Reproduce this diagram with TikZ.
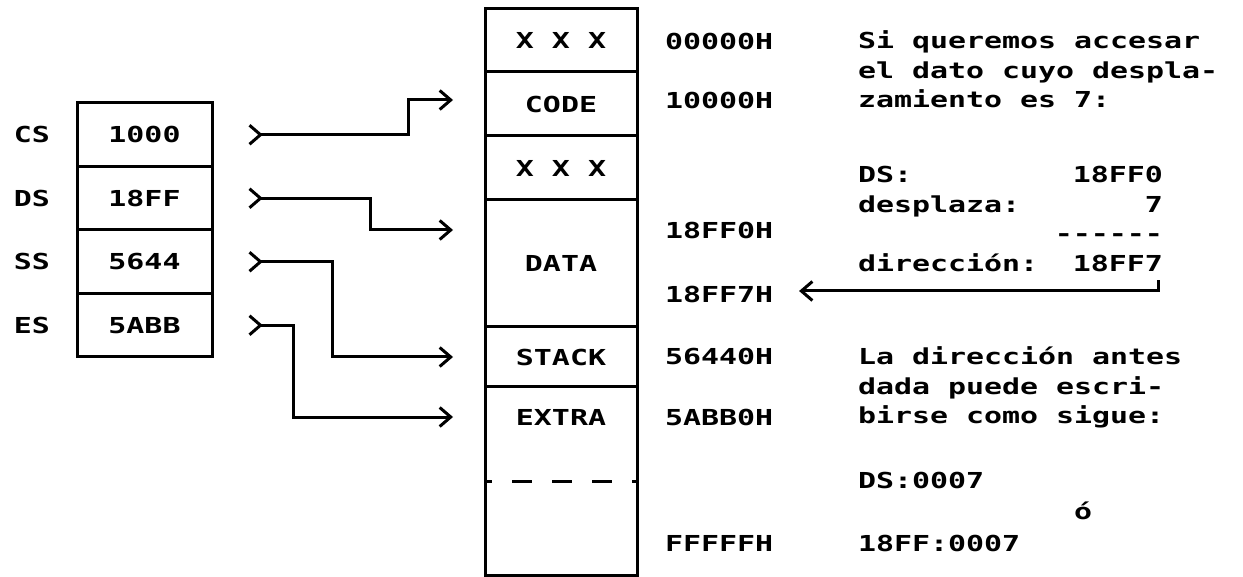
\documentclass[tikz,border=0pt]{standalone}
\usepackage{fontspec}
\setmonofont{DejaVu Sans Mono}[FakeStretch=1.36]
\usetikzlibrary{arrows.meta,positioning,calc}
\newcommand{\prnfont}{\fontsize{22}{29.5}\selectfont\ttfamily\bfseries}

\begin{document}
\begin{tikzpicture}[x=1pt, y=-1pt,
  every node/.style={font=\prnfont, inner sep=0pt, outer sep=0pt},
  reg/.style={draw, line width=3pt, minimum width=135pt, minimum height=63.5pt},
  seg/.style={minimum width=152pt},
  frame/.style={line width=3pt},
  ptr/.style={line width=3pt,
    {Straight Barb[reversed, length=11pt, width=19pt]}-{Straight Barb[length=11pt, width=19pt]}},
  ret/.style={line width=3pt, -{Straight Barb[length=11pt, width=19pt]}}
]
  \useasboundingbox (0,0) rectangle (1243,577);

  % segment registers
  \node[reg] (cs) at (144.5,134.75) {1000};
  \node[reg, below=0pt of cs] (ds) {18FF};
  \node[reg, below=0pt of ds] (ss) {5644};
  \node[reg, below=0pt of ss] (es) {5ABB};
  \foreach \r/\t in {cs/CS, ds/DS, ss/SS, es/ES}
    \node[left=27pt of \r] (l\r) {\t};

  % memory map
  \node[seg, minimum height=63pt, anchor=north] (xa) at (561,9) {X X X};
  \node[seg, minimum height=64pt, below=0pt of xa] (code) {CODE};
  \node[seg, minimum height=64pt, below=0pt of code] (xb) {X X X};
  \node[seg, minimum height=127pt, below=0pt of xb] (data) {DATA};
  \node[seg, minimum height=60pt, below=0pt of data] (stack) {STACK};
  \node[seg, minimum height=94pt, text height=16pt, text depth=33pt,
    below=0pt of stack] (extra) {EXTRA};
  \node[seg, minimum height=94pt, below=0pt of extra] (tail) {};
  \draw[frame] (xa.north west) rectangle (tail.south east);
  \foreach \s in {code,xb,data,stack,extra}
    \draw[frame] (\s.north west) -- (\s.north east);
  \draw[frame, dash pattern=on 20pt off 20pt, dash phase=13pt]
    (tail.north west) -- (tail.north east);

  % addresses
  \node[anchor=west] (a0) at (665,41) {00000H};
  \node[anchor=west] (a1) at (665,100) {10000H};
  \node[anchor=west] (a2) at (665,230) {18FF0H};
  \node[anchor=west] (a3) at (665,294) {18FF7H};
  \node[anchor=west] (a4) at (665,357) {56440H};
  \node[anchor=west] (a5) at (665,417) {5ABB0H};
  \node[anchor=west] (a6) at (665,543) {FFFFFH};

  % register pointers
  \foreach \r/\l/\m/\a in {cs/160/code/a1, ds/122/data/a2, ss/84/stack/a4, es/45/extra/a5}
    \draw[ptr] ([xshift=36pt]\r.east) -- ++(\l,0) |- ($(\m.west |- \a)+(-32,0)$);

  % notes
  \node[anchor=base west] (intro) at (858,49)
    {\begin{tabular}[t]{@{}l@{}}Si queremos accesar\\el dato cuyo despla-\\zamiento es 7:\end{tabular}};
  \node[anchor=base west] (sum) at (858,183)
    {\begin{tabular*}{305pt}[t]{@{}l@{\extracolsep{\fill}}r@{}}
      DS: & 18FF0\\ desplaza: & 7\\ & -{}-{}-{}-{}-{}-\\ dirección: & 18FF7
    \end{tabular*}};
  \draw[ret] ([xshift=-5pt]sum.south east) |- ([xshift=26pt, yshift=3pt]a3.east);
  \node[anchor=base west] (note) at (858,365)
    {\begin{tabular}[t]{@{}l@{}}La dirección antes\\dada puede escri-\\birse como sigue:\end{tabular}};
  \node[anchor=base west] (forms) at (858,488)
    {\begin{tabular}[t]{@{}l@{}}DS:0007\\[2pt]\hspace*{216pt}ó\\[2pt]18FF:0007\end{tabular}};
\end{tikzpicture}
\end{document}
